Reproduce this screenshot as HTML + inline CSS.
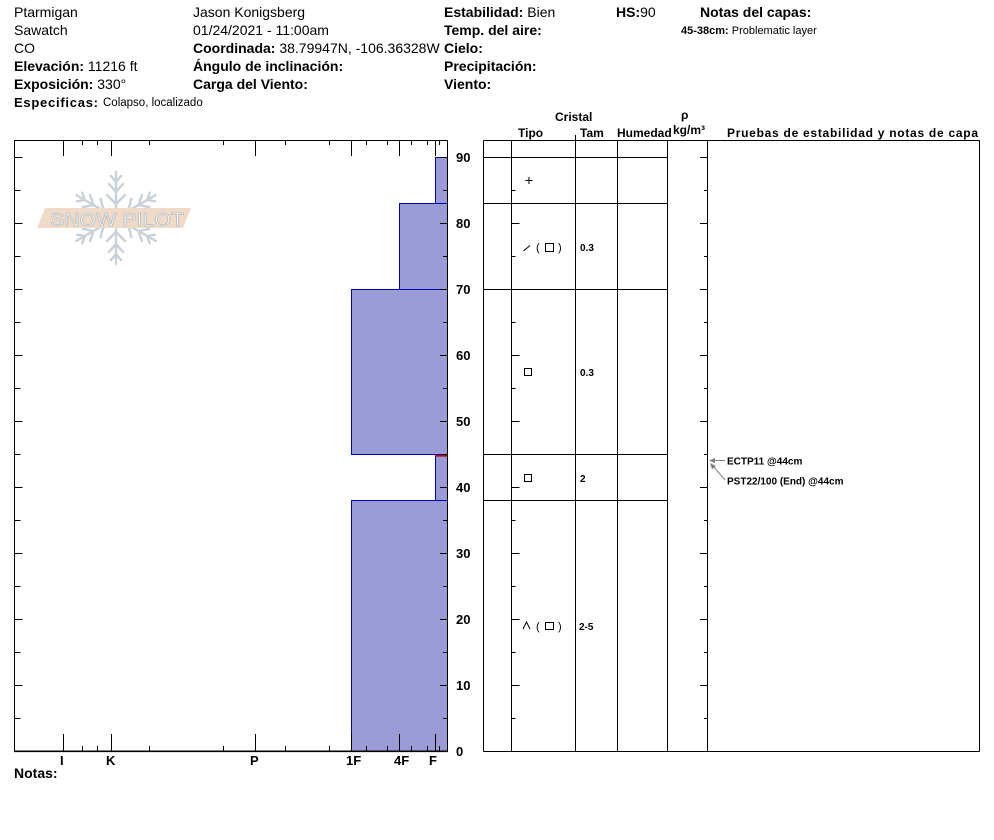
<!DOCTYPE html>
<html>
<head>
<meta charset="utf-8">
<style>
  html, body { margin:0; padding:0; background:#fff; }
  svg { display:block; }
  text { font-family: "Liberation Sans", Arial, sans-serif; fill:#000; }
  .b { font-weight:bold; }
</style>
</head>
<body>
<svg width="994" height="840" viewBox="0 0 994 840" xmlns="http://www.w3.org/2000/svg">
  <rect x="0" y="0" width="994" height="840" fill="#fff"/>

  <!-- ===== Header column 1 ===== -->
  <text x="14" y="17" font-size="14">Ptarmigan</text>
  <text x="14" y="35" font-size="14">Sawatch</text>
  <text x="14" y="53" font-size="14">CO</text>
  <text x="14" y="71" font-size="14"><tspan class="b">Elevación:</tspan> 11216 ft</text>
  <text x="14" y="89" font-size="14"><tspan class="b">Exposición:</tspan> 330°</text>
  <text x="14" y="107" font-size="13" class="b" textLength="84" lengthAdjust="spacing">Especificas:</text>
  <text x="103" y="106" font-size="11.5">Colapso, localizado</text>

  <!-- ===== Header column 2 ===== -->
  <text x="193" y="17" font-size="14">Jason Konigsberg</text>
  <text x="193" y="35" font-size="14">01/24/2021 - 11:00am</text>
  <text x="193" y="53" font-size="14"><tspan class="b">Coordinada:</tspan> 38.79947N, -106.36328W</text>
  <text x="193" y="71" font-size="14" class="b">Ángulo de inclinación:</text>
  <text x="193" y="89" font-size="14" class="b">Carga del Viento:</text>

  <!-- ===== Header column 3 ===== -->
  <text x="444" y="17" font-size="14"><tspan class="b">Estabilidad:</tspan> Bien</text>
  <text x="444" y="35" font-size="14" class="b">Temp. del aire:</text>
  <text x="444" y="53" font-size="14" class="b">Cielo:</text>
  <text x="444" y="71" font-size="14" class="b">Precipitación:</text>
  <text x="444" y="89" font-size="14" class="b">Viento:</text>

  <text x="616" y="17" font-size="14"><tspan class="b">HS:</tspan>90</text>
  <text x="700" y="17" font-size="14" class="b">Notas del capas:</text>
  <text x="681" y="34" font-size="11"><tspan class="b">45-38cm:</tspan> Problematic layer</text>

  <!-- ===== Snow Pilot logo ===== -->
  <defs>
    <g id="arm">
      <line x1="0" y1="0" x2="0" y2="-46"/>
      <polyline points="-9,-23 0,-14 9,-23" fill="none"/>
      <polyline points="-7,-34 0,-26 7,-34" fill="none"/>
      <polyline points="-5,-42 0,-36 5,-42" fill="none"/>
    </g>
  </defs>
  <g transform="translate(116,218)" stroke="#c9d1d9" stroke-width="2.4" stroke-linecap="round" fill="none">
    <use href="#arm"/>
    <use href="#arm" transform="rotate(60)"/>
    <use href="#arm" transform="rotate(120)"/>
    <use href="#arm" transform="rotate(180)"/>
    <use href="#arm" transform="rotate(240)"/>
    <use href="#arm" transform="rotate(300)"/>
  </g>
  <polygon points="37,228 45,208 191,208 183,228" fill="#f0dbc8"/>
  <text x="50" y="226" font-size="18" textLength="134" lengthAdjust="spacingAndGlyphs" fill="#ffffff" stroke="#b9bcc0" stroke-width="0.8" style="fill:#ffffff">SNOW PILOT</text>

  <!-- ===== Hardness profile bars ===== -->
  <g fill="#9b9bd6" stroke="#0000a8" stroke-width="1">
    <rect x="435.5" y="157.5" width="12" height="46"/>
    <rect x="399.5" y="203.5" width="48" height="86"/>
    <rect x="351.5" y="289.5" width="96" height="165"/>
    <rect x="435.5" y="454.5" width="12" height="46"/>
    <rect x="351.5" y="500.5" width="96" height="250.5"/>
  </g>
  <line x1="435" y1="455.8" x2="447" y2="455.8" stroke="#c00000" stroke-width="1.6"/>

  <!-- ===== Graph frame ===== -->
  <g stroke="#000" stroke-width="1" fill="none">
    <line x1="14.5" y1="140.5" x2="447.5" y2="140.5"/>
    <line x1="14.5" y1="140.5" x2="14.5" y2="751.5"/>
    <line x1="447.5" y1="140.5" x2="447.5" y2="751.5"/>
  </g>
  <line x1="14" y1="751.3" x2="448" y2="751.3" stroke="#000" stroke-width="1.6"/>

  <!-- bottom ticks -->
  <g stroke="#000" stroke-width="1">
    <line x1="63.5" y1="751" x2="63.5" y2="734"/>
    <line x1="111.5" y1="751" x2="111.5" y2="734"/>
    <line x1="255.5" y1="751" x2="255.5" y2="734"/>
    <line x1="351.5" y1="751" x2="351.5" y2="734"/>
    <line x1="399.5" y1="751" x2="399.5" y2="734"/>
    <line x1="435.5" y1="751" x2="435.5" y2="734"/>
    <line x1="14.5" y1="751" x2="14.5" y2="745"/>
    <line x1="82.5" y1="751" x2="82.5" y2="746"/>
    <line x1="97.5" y1="751" x2="97.5" y2="746"/>
    <line x1="149.5" y1="751" x2="149.5" y2="746"/>
    <line x1="223.5" y1="751" x2="223.5" y2="746"/>
    <line x1="285.5" y1="751" x2="285.5" y2="746"/>
    <line x1="329.5" y1="751" x2="329.5" y2="746"/>
    <line x1="366.5" y1="751" x2="366.5" y2="746"/>
    <line x1="387.5" y1="751" x2="387.5" y2="746"/>
    <line x1="411.5" y1="751" x2="411.5" y2="746"/>
    <line x1="427.5" y1="751" x2="427.5" y2="746"/>
    <line x1="439.5" y1="751" x2="439.5" y2="746"/>
  </g>
  <!-- top ticks -->
  <g stroke="#000" stroke-width="1">
    <line x1="63.5" y1="140" x2="63.5" y2="156"/>
    <line x1="111.5" y1="140" x2="111.5" y2="156"/>
    <line x1="255.5" y1="140" x2="255.5" y2="156"/>
    <line x1="351.5" y1="140" x2="351.5" y2="156"/>
    <line x1="399.5" y1="140" x2="399.5" y2="156"/>
    <line x1="435.5" y1="140" x2="435.5" y2="156"/>
    <line x1="14.5" y1="140" x2="14.5" y2="146"/>
    <line x1="82.5" y1="140" x2="82.5" y2="145"/>
    <line x1="97.5" y1="140" x2="97.5" y2="145"/>
    <line x1="149.5" y1="140" x2="149.5" y2="145"/>
    <line x1="223.5" y1="140" x2="223.5" y2="145"/>
    <line x1="285.5" y1="140" x2="285.5" y2="145"/>
    <line x1="329.5" y1="140" x2="329.5" y2="145"/>
    <line x1="366.5" y1="140" x2="366.5" y2="145"/>
    <line x1="387.5" y1="140" x2="387.5" y2="145"/>
    <line x1="411.5" y1="140" x2="411.5" y2="145"/>
    <line x1="427.5" y1="140" x2="427.5" y2="145"/>
    <line x1="439.5" y1="140" x2="439.5" y2="145"/>
  </g>

  <!-- left & right ticks of graph (every 5 cm) -->
  <g stroke="#000" stroke-width="1">
    <!-- major (10s) -->
    <line x1="14.5" y1="685.5" x2="22.5" y2="685.5"/><line x1="440" y1="685.5" x2="447.5" y2="685.5"/>
    <line x1="14.5" y1="619.5" x2="22.5" y2="619.5"/><line x1="440" y1="619.5" x2="447.5" y2="619.5"/>
    <line x1="14.5" y1="553.5" x2="22.5" y2="553.5"/><line x1="440" y1="553.5" x2="447.5" y2="553.5"/>
    <line x1="14.5" y1="487.5" x2="22.5" y2="487.5"/><line x1="440" y1="487.5" x2="447.5" y2="487.5"/>
    <line x1="14.5" y1="421.5" x2="22.5" y2="421.5"/><line x1="440" y1="421.5" x2="447.5" y2="421.5"/>
    <line x1="14.5" y1="355.5" x2="22.5" y2="355.5"/><line x1="440" y1="355.5" x2="447.5" y2="355.5"/>
    <line x1="14.5" y1="289.5" x2="22.5" y2="289.5"/><line x1="440" y1="289.5" x2="447.5" y2="289.5"/>
    <line x1="14.5" y1="223.5" x2="22.5" y2="223.5"/><line x1="440" y1="223.5" x2="447.5" y2="223.5"/>
    <line x1="14.5" y1="157.5" x2="22.5" y2="157.5"/><line x1="440" y1="157.5" x2="447.5" y2="157.5"/>
    <!-- minor (5s) -->
    <line x1="14.5" y1="718.5" x2="20.5" y2="718.5"/><line x1="443" y1="718.5" x2="447.5" y2="718.5"/>
    <line x1="14.5" y1="652.5" x2="20.5" y2="652.5"/><line x1="443" y1="652.5" x2="447.5" y2="652.5"/>
    <line x1="14.5" y1="586.5" x2="20.5" y2="586.5"/><line x1="443" y1="586.5" x2="447.5" y2="586.5"/>
    <line x1="14.5" y1="520.5" x2="20.5" y2="520.5"/><line x1="443" y1="520.5" x2="447.5" y2="520.5"/>
    <line x1="14.5" y1="454.5" x2="20.5" y2="454.5"/><line x1="443" y1="454.5" x2="447.5" y2="454.5"/>
    <line x1="14.5" y1="388.5" x2="20.5" y2="388.5"/><line x1="443" y1="388.5" x2="447.5" y2="388.5"/>
    <line x1="14.5" y1="322.5" x2="20.5" y2="322.5"/><line x1="443" y1="322.5" x2="447.5" y2="322.5"/>
    <line x1="14.5" y1="256.5" x2="20.5" y2="256.5"/><line x1="443" y1="256.5" x2="447.5" y2="256.5"/>
    <line x1="14.5" y1="190.5" x2="20.5" y2="190.5"/><line x1="443" y1="190.5" x2="447.5" y2="190.5"/>
  </g>

  <!-- y-axis labels -->
  <g font-size="13" class="b" style="font-weight:bold">
    <text x="456" y="756">0</text>
    <text x="456" y="690">10</text>
    <text x="456" y="624">20</text>
    <text x="456" y="558">30</text>
    <text x="456" y="492">40</text>
    <text x="456" y="426">50</text>
    <text x="456" y="360">60</text>
    <text x="456" y="294">70</text>
    <text x="456" y="228">80</text>
    <text x="456" y="162">90</text>
  </g>

  <!-- x-axis labels -->
  <g font-size="13" style="font-weight:bold">
    <text x="60" y="765">I</text>
    <text x="106" y="765">K</text>
    <text x="250" y="765">P</text>
    <text x="346" y="765">1F</text>
    <text x="394" y="765">4F</text>
    <text x="429" y="765">F</text>
  </g>
  <text x="14" y="778" font-size="14" style="font-weight:bold">Notas:</text>

  <!-- ===== Table header ===== -->
  <g font-size="12" style="font-weight:bold">
    <text x="555" y="121">Cristal</text>
    <text x="518" y="137">Tipo</text>
    <text x="580" y="137">Tam</text>
    <text x="617" y="137">Humedad</text>
    <text x="681" y="119">ρ</text>
    <text x="673" y="134">kg/m³</text>
    <text x="727" y="137" textLength="251" lengthAdjust="spacing">Pruebas de estabilidad y notas de capa</text>
  </g>
  <line x1="575.5" y1="135" x2="575.5" y2="140" stroke="#000" stroke-width="1"/>

  <!-- ===== Table grid ===== -->
  <g stroke="#000" stroke-width="1" fill="none">
    <line x1="483.5" y1="140.5" x2="979.5" y2="140.5"/>
    <line x1="483.5" y1="751.5" x2="979.5" y2="751.5"/>
    <line x1="483.5" y1="140.5" x2="483.5" y2="751.5"/>
    <line x1="511.5" y1="140.5" x2="511.5" y2="751.5"/>
    <line x1="575.5" y1="140.5" x2="575.5" y2="751.5"/>
    <line x1="617.5" y1="140.5" x2="617.5" y2="751.5"/>
    <line x1="667.5" y1="140.5" x2="667.5" y2="751.5"/>
    <line x1="707.5" y1="140.5" x2="707.5" y2="751.5"/>
    <line x1="979.5" y1="140.5" x2="979.5" y2="751.5"/>
    <!-- layer boundaries -->
    <line x1="483.5" y1="157.5" x2="667.5" y2="157.5"/>
    <line x1="483.5" y1="203.5" x2="667.5" y2="203.5"/>
    <line x1="483.5" y1="289.5" x2="667.5" y2="289.5"/>
    <line x1="483.5" y1="454.5" x2="667.5" y2="454.5"/>
    <line x1="483.5" y1="500.5" x2="667.5" y2="500.5"/>
  </g>

  <!-- table ticks -->
  <g stroke="#000" stroke-width="1">
    <line x1="511.5" y1="685.5" x2="519.5" y2="685.5"/><line x1="700" y1="685.5" x2="707.5" y2="685.5"/>
    <line x1="511.5" y1="619.5" x2="519.5" y2="619.5"/><line x1="700" y1="619.5" x2="707.5" y2="619.5"/>
    <line x1="511.5" y1="553.5" x2="519.5" y2="553.5"/><line x1="700" y1="553.5" x2="707.5" y2="553.5"/>
    <line x1="511.5" y1="487.5" x2="519.5" y2="487.5"/><line x1="700" y1="487.5" x2="707.5" y2="487.5"/>
    <line x1="511.5" y1="421.5" x2="519.5" y2="421.5"/><line x1="700" y1="421.5" x2="707.5" y2="421.5"/>
    <line x1="511.5" y1="355.5" x2="519.5" y2="355.5"/><line x1="700" y1="355.5" x2="707.5" y2="355.5"/>
    <line x1="700" y1="289.5" x2="707.5" y2="289.5"/>
    <line x1="511.5" y1="223.5" x2="519.5" y2="223.5"/><line x1="700" y1="223.5" x2="707.5" y2="223.5"/>
    <line x1="700" y1="157.5" x2="707.5" y2="157.5"/>
    <line x1="511.5" y1="718.5" x2="515.5" y2="718.5"/><line x1="704" y1="718.5" x2="707.5" y2="718.5"/>
    <line x1="511.5" y1="652.5" x2="515.5" y2="652.5"/><line x1="704" y1="652.5" x2="707.5" y2="652.5"/>
    <line x1="511.5" y1="586.5" x2="515.5" y2="586.5"/><line x1="704" y1="586.5" x2="707.5" y2="586.5"/>
    <line x1="511.5" y1="520.5" x2="515.5" y2="520.5"/><line x1="704" y1="520.5" x2="707.5" y2="520.5"/>
    <line x1="704" y1="454.5" x2="707.5" y2="454.5"/>
    <line x1="511.5" y1="388.5" x2="515.5" y2="388.5"/><line x1="704" y1="388.5" x2="707.5" y2="388.5"/>
    <line x1="511.5" y1="322.5" x2="515.5" y2="322.5"/><line x1="704" y1="322.5" x2="707.5" y2="322.5"/>
    <line x1="511.5" y1="256.5" x2="515.5" y2="256.5"/><line x1="704" y1="256.5" x2="707.5" y2="256.5"/>
    <line x1="511.5" y1="190.5" x2="515.5" y2="190.5"/><line x1="704" y1="190.5" x2="707.5" y2="190.5"/>
  </g>

  <!-- ===== Layer content ===== -->
  <g stroke="#000" stroke-width="1" fill="none">
    <!-- + -->
    <line x1="525.5" y1="180.5" x2="532.5" y2="180.5"/>
    <line x1="529" y1="177" x2="529" y2="184"/>
    <!-- / (box) -->
    <line x1="523.5" y1="251" x2="530" y2="245.5"/>
    <rect x="545.5" y="243.5" width="8" height="8"/>
    <!-- box 70-45 -->
    <rect x="524.5" y="368.5" width="7" height="7"/>
    <!-- box 45-38 -->
    <rect x="524.5" y="474.5" width="7" height="7"/>
    <!-- ^ (box) -->
    <polyline points="523,629 526.5,622 530,629"/>
    <rect x="545.5" y="622.5" width="8" height="7"/>
  </g>
  <g font-size="11">
    <text x="536" y="251">(</text>
    <text x="558" y="251">)</text>
    <text x="536" y="630">(</text>
    <text x="558" y="630">)</text>
  </g>
  <g font-size="10" style="font-weight:bold">
    <text x="580" y="251">0.3</text>
    <text x="580" y="376">0.3</text>
    <text x="580" y="482">2</text>
    <text x="579" y="630">2-5</text>
  </g>

  <!-- ===== Stability tests ===== -->
  <g stroke="#808080" stroke-width="1" fill="#808080">
    <line x1="725" y1="460.5" x2="713" y2="460.5"/>
    <polygon points="709,460.5 715,458 715,463" stroke="none"/>
    <line x1="725" y1="480" x2="713" y2="466"/>
    <polygon points="710,463 715.8,465.9 712.1,469.2" stroke="none"/>
  </g>
  <g font-size="10" style="font-weight:bold">
    <text x="727" y="464.5">ECTP11 @44cm</text>
    <text x="727" y="484.5">PST22/100 (End) @44cm</text>
  </g>
</svg>
</body>
</html>
